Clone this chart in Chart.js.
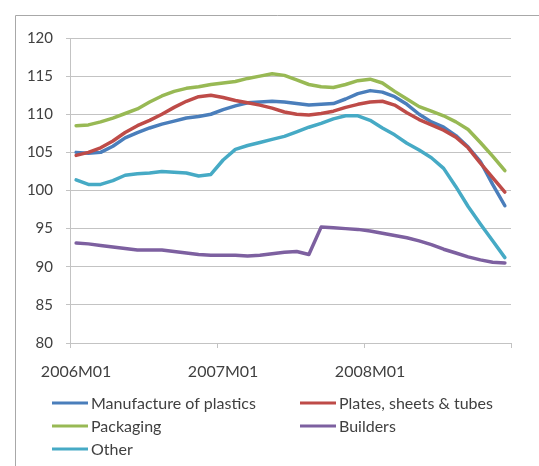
<!DOCTYPE html>
<html>
<head>
<meta charset="utf-8">
<script src="https://cdn.jsdelivr.net/npm/chart.js@4/dist/chart.umd.min.js"></script>
<style>
  html, body { margin: 0; padding: 0; background: #ffffff; }
  #wrap { width: 539px; height: 466px; position: relative; }
</style>
</head>
<body>
<div id="wrap"><canvas id="chart"></canvas></div>
<script>
// Monthly index values, 2006M01 to 2008M12
const months = [];
for (let y = 2006; y <= 2008; y++) {
  for (let m = 1; m <= 12; m++) months.push(y + 'M' + String(m).padStart(2, '0'));
}

const seriesNames = ['Manufacture of plastics', 'Plates, sheets & tubes', 'Packaging', 'Builders', 'Other'];

const manufactureOfPlastics = [
  105.0, 104.9, 105.0, 105.8, 106.9, 107.6, 108.2, 108.7, 109.1, 109.5, 109.7, 110.0,
  110.6, 111.1, 111.5, 111.6, 111.7, 111.6, 111.4, 111.2, 111.3, 111.4, 112.0, 112.7,
  113.1, 112.9, 112.3, 111.3, 110.0, 109.0, 108.3, 107.2, 105.7, 103.8, 100.8, 98.0
];
const platesSheetsTubes = [
  104.6, 105.0, 105.6, 106.5, 107.6, 108.5, 109.2, 110.0, 110.9, 111.7, 112.3, 112.5,
  112.2, 111.8, 111.5, 111.2, 110.8, 110.3, 110.0, 109.9, 110.1, 110.4, 110.9, 111.3,
  111.6, 111.7, 111.2, 110.2, 109.3, 108.6, 107.9, 107.0, 105.6, 103.6, 101.7, 99.8
];
const packaging = [
  108.5, 108.6, 109.0, 109.5, 110.1, 110.7, 111.6, 112.4, 113.0, 113.4, 113.6, 113.9,
  114.1, 114.3, 114.7, 115.0, 115.3, 115.1, 114.5, 113.9, 113.6, 113.5, 113.9, 114.4,
  114.6, 114.1, 113.0, 112.0, 111.0, 110.4, 109.8, 109.0, 108.0, 106.3, 104.5, 102.6
];
const builders = [
  93.1, 93.0, 92.8, 92.6, 92.4, 92.2, 92.2, 92.2, 92.0, 91.8, 91.6, 91.5,
  91.5, 91.5, 91.4, 91.5, 91.7, 91.9, 92.0, 91.6, 95.2, 95.1, 95.0, 94.9,
  94.7, 94.4, 94.1, 93.8, 93.4, 92.9, 92.3, 91.8, 91.3, 90.9, 90.6, 90.5
];
const other = [
  101.4, 100.8, 100.8, 101.3, 102.0, 102.2, 102.3, 102.5, 102.4, 102.3, 101.9, 102.1,
  104.0, 105.4, 105.9, 106.3, 106.7, 107.1, 107.7, 108.3, 108.8, 109.4, 109.8, 109.8,
  109.2, 108.2, 107.3, 106.2, 105.3, 104.3, 102.9, 100.5, 97.9, 95.6, 93.4, 91.2
];

const yTicks = [80, 85, 90, 95, 100, 105, 110, 115, 120];

const seriesValues = [manufactureOfPlastics, platesSheetsTubes, packaging, builders, other];
const seriesColors = ['#4a7ebb', '#be4b48', '#98b954', '#7d60a0', '#46aac5'];

const textColor = '#404040';
const gridColor = '#c3c3c3';

// Outer frame lines on the left and top edges
const framePlugin = {
  id: 'frame',
  beforeDraw(chart) {
    const ctx = chart.ctx;
    ctx.save();
    ctx.strokeStyle = '#a8a8a8';
    ctx.lineWidth = 1;
    ctx.beginPath();
    ctx.moveTo(15.5, chart.height);
    ctx.lineTo(15.5, 15.5);
    ctx.lineTo(chart.width, 15.5);
    ctx.stroke();
    ctx.restore();
  }
};

// Two-column legend under the plot, built from the datasets
const gridLegendPlugin = {
  id: 'gridLegend',
  afterDraw(chart, args, opts) {
    const ctx = chart.ctx;
    ctx.save();
    ctx.font = opts.font;
    ctx.textBaseline = 'middle';
    ctx.textAlign = 'left';
    chart.data.datasets.forEach((ds, i) => {
      const col = i % 2, row = Math.floor(i / 2);
      const x = opts.columns[col];
      const y = opts.top + row * opts.rowHeight;
      ctx.strokeStyle = ds.borderColor;
      ctx.lineWidth = 3;
      ctx.beginPath();
      ctx.moveTo(x, y);
      ctx.lineTo(x + opts.lineLength, y);
      ctx.stroke();
      ctx.fillStyle = textColor;
      ctx.fillText(ds.label, x + opts.lineLength + 3, y + 1);
    });
    ctx.restore();
  }
};

new Chart(document.getElementById('chart'), {
  type: 'line',
  data: {
    labels: months,
    datasets: seriesNames.map((name, i) => ({
      label: name,
      data: seriesValues[i],
      borderColor: seriesColors[i],
      backgroundColor: seriesColors[i],
      borderWidth: 3.5,
      borderJoinStyle: 'round',
      borderCapStyle: 'round',
      pointRadius: 0,
      tension: 0,
      fill: false,
      order: seriesNames.length - i
    }))
  },
  options: {
    responsive: true,
    maintainAspectRatio: false,
    animation: false,
    events: [],
    layout: { padding: { left: 0, right: 28, top: 38, bottom: 83 } },
    plugins: {
      legend: { display: false },
      tooltip: { enabled: false },
      gridLegend: {
        font: '16px Lato',
        columns: [52, 300],
        top: 403,
        rowHeight: 23,
        lineLength: 36
      }
    },
    scales: {
      x: {
        type: 'category',
        offset: true,
        grid: {
          offset: true,
          drawOnChartArea: false,
          tickLength: 5,
          color: (c) => (c.index === undefined || c.index % 12 === 0) ? gridColor : 'rgba(0,0,0,0)'
        },
        border: { color: gridColor },
        ticks: {
          autoSkip: false,
          maxRotation: 0,
          padding: 14,
          color: textColor,
          font: { family: 'Lato', size: 16 },
          callback: function (value, index) {
            return index % 12 === 0 ? this.getLabelForValue(value) : '';
          }
        },
        afterFit(scale) { scale.height = 40; }
      },
      y: {
        min: 80,
        max: 120,
        afterBuildTicks(scale) { scale.ticks = yTicks.map(v => ({ value: v })); },
        grid: { color: gridColor, tickLength: 4 },
        border: { color: gridColor },
        ticks: {
          padding: 13,
          color: textColor,
          font: { family: 'Lato', size: 15 }
        },
        afterFit(scale) { scale.width = 70; }
      }
    }
  },
  plugins: [framePlugin, gridLegendPlugin]
});
</script>
</body>
</html>
